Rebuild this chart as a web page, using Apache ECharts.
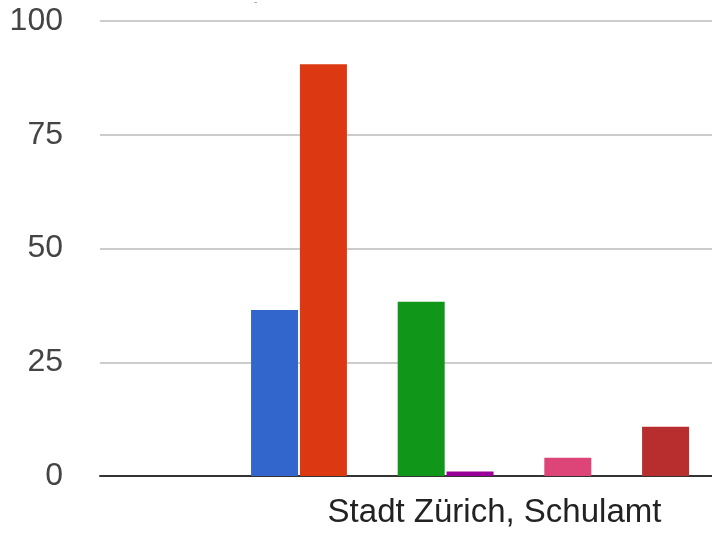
<!DOCTYPE html>
<html>
<head>
<meta charset="utf-8">
<script src="https://cdn.jsdelivr.net/npm/echarts@6/dist/echarts.min.js"></script>
<style>
  html, body { margin: 0; padding: 0; background: #fff; overflow: hidden; }
  /* the original is a crop of a wider chart: draw it wider and let the window cut it */
  #chart { width: 890px; height: 533px; }
</style>
</head>
<body>
<div id="chart"></div>
<script>
// one category, ten series (the last one sits outside the visible area)
var categories = ['Stadt Zürich, Schulamt'];
var seriesNames = ['Serie 1', 'Serie 2', 'Serie 3', 'Serie 4', 'Serie 5',
                   'Serie 6', 'Serie 7', 'Serie 8', 'Serie 9', 'Serie 10'];
var seriesValues = [36.5, 90.5, 0, 38.3, 1, 0, 4, 0, 10.8, 0];
var seriesColors = ['#3366cc', '#dc3912', '#ff9900', '#109618', '#990099',
                    '#0099c6', '#dd4477', '#66aa00', '#b82e2e', '#316395'];
var yTicks = [0, 25, 50, 75, 100];

(function(){
  var series = [];
  for (var i = 0; i < seriesNames.length; i++) {
    series.push({
      name: seriesNames[i],
      type: 'bar',
      data: [seriesValues[i]],
      barWidth: 47,
      barGap: '4%',
      itemStyle: { color: seriesColors[i] },
      silent: true
    });
  }

  var opt = {
    animation: false,
    title: {
      text: '-',
      left: 249,
      top: -8,
      textStyle: { fontSize: 10, color: '#999', fontWeight: 'normal', fontFamily: 'Liberation Sans' }
    },
    grid: {
      left: 100,
      right: 1,
      top: 21,
      bottom: 57,
      containLabel: false
    },
    xAxis: {
      type: 'category',
      data: categories,
      axisLine: { show: true, lineStyle: { color: '#333', width: 2 } },
      axisTick: { show: false },
      axisLabel: {
        margin: 20,
        fontSize: 33,
        color: '#222',
        fontFamily: 'Liberation Sans'
      }
    },
    yAxis: {
      type: 'value',
      min: yTicks[0],
      max: yTicks[yTicks.length - 1],
      interval: 25,
      axisLine: { show: false },
      axisTick: { show: false },
      splitLine: { lineStyle: { color: '#cccccc', width: 2 } },
      axisLabel: {
        margin: 37,
        fontSize: 32,
        color: '#444',
        fontFamily: 'Liberation Sans'
      }
    },
    series: series
  };

  var chart = echarts.init(document.getElementById('chart'));
  chart.setOption(opt);
})();
</script>
</body>
</html>
